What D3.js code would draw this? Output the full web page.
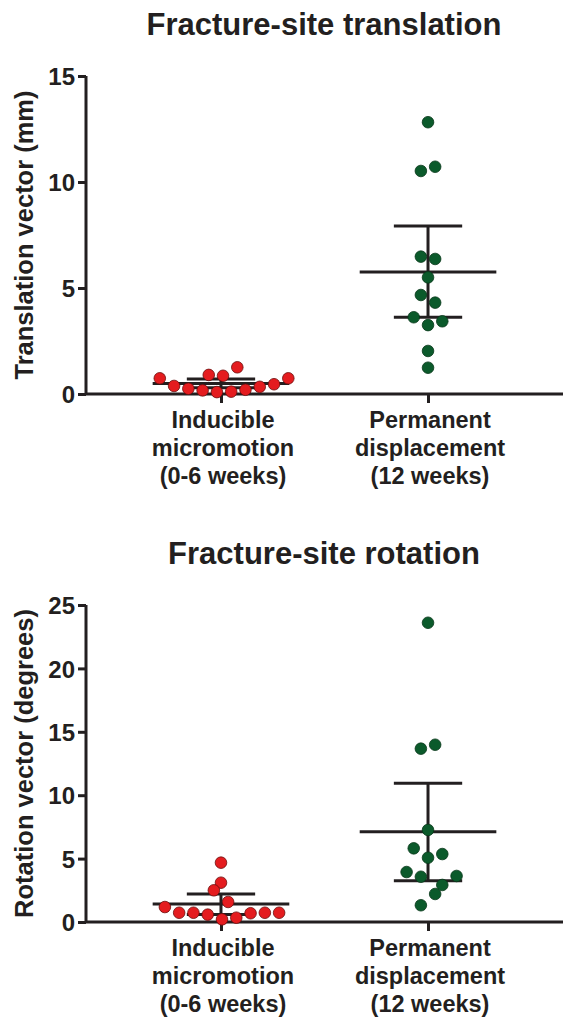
<!DOCTYPE html>
<html>
<head>
<meta charset="utf-8">
<script src="https://cdn.jsdelivr.net/npm/d3@7"></script>
<style>
  body { margin: 0; background: #fff; }
  svg text { font-family: "Liberation Sans", Arial, sans-serif; font-weight: bold; fill: #231f20; }
</style>
</head>
<body>
<svg id="svg" width="565" height="1017"></svg>
<script>
// categories (x tick labels, one line per entry)
var groups = ['micro', 'perm'];
var groupLabels = [
    ['Inducible', 'micromotion', '(0-6 weeks)'],
    ['Permanent', 'displacement', '(12 weeks)']
];

// translation vector (mm)
var transMicro = [0.74, 0.38, 0.25, 0.17, 0.09, 0.11, 0.20, 0.34, 0.46, 0.74, 0.90, 0.86, 1.26];
var transPerm = [12.82, 10.52, 10.72, 6.48, 6.37, 5.50, 4.67, 4.31, 3.62, 3.25, 3.43, 2.03, 1.24];
// mean, lower, upper (error bars)
var transStats = [[0.50, 0.29, 0.71], [5.75, 3.62, 7.92]];
var transTicks = [0, 5, 10, 15];

// rotation vector (degrees)
var rotMicro = [4.68, 3.10, 2.50, 1.58, 1.18, 0.73, 0.73, 0.58, 0.21, 0.34, 0.69, 0.73, 0.73];
var rotPerm = [23.60, 13.67, 13.98, 7.26, 5.81, 5.07, 5.36, 3.94, 3.57, 3.63, 2.92, 2.21, 1.32];
var rotStats = [[1.42, 0.60, 2.20], [7.12, 3.26, 10.94]];
var rotTicks = [0, 5, 10, 15, 20, 25];

// x offsets (in point-radius units) of the scattered dots, so they don't overlap
var transMicroJit = [-6, -4.6, -3.2, -1.8, -0.4, 1, 2.4, 3.8, 5.2, 6.6, -1.2, 0.2, 1.6];
var transPermJit = [0, -0.7, 0.7, -0.7, 0.7, 0, -0.7, 0.7, -1.4, 0, 1.4, 0, 0];
var rotMicroJit = [0, 0, -0.7, 0.7, -5.5, -4.1, -2.7, -1.3, 0.1, 1.5, 2.9, 4.3, 5.7];
var rotPermJit = [0, -0.7, 0.7, 0, -1.4, 0, 1.4, -2.1, -0.7, 2.8, 1.4, 0.7, -0.7];

var colors = { micro: '#e41c1f', perm: '#0b5a2b' };
var strokes = { micro: '#6b0b0b', perm: '#063618' };
var ink = '#231f20';

var svg = d3.select('#svg');

var panels = [
    { title: 'Fracture-site translation', ylabel: 'Translation vector (mm)', top: 76, bottom: 394, max: 15,
      ticks: transTicks, data: [transMicro, transPerm], jit: [transMicroJit, transPermJit], stats: transStats },
    { title: 'Fracture-site rotation', ylabel: 'Rotation vector (degrees)', top: 605, bottom: 922, max: 25,
      ticks: rotTicks, data: [rotMicro, rotPerm], jit: [rotMicroJit, rotPermJit], stats: rotStats }
];

var left = 86, right = 563;

var x = d3.scalePoint().domain(groups).range([left, right]).padding(0.652);

panels.forEach(function (p) {
    var g = svg.append('g');
    var y = d3.scaleLinear().domain([0, p.max]).range([p.bottom, p.top]);
    var step = x.step();

    // title
    g.append('text')
        .attr('x', 324)
        .attr('y', p.top - 41)
        .attr('text-anchor', 'middle')
        .style('font-size', '31px')
        .text(p.title);

    // y axis label
    g.append('text')
        .attr('transform', 'translate(33,' + ((p.top + p.bottom) / 2) + ') rotate(-90)')
        .attr('text-anchor', 'middle')
        .style('font-size', '25.5px')
        .text(p.ylabel);

    // y axis
    var yAxis = g.append('g')
        .attr('transform', 'translate(' + left + ',0)')
        .call(d3.axisLeft(y).tickValues(p.ticks).tickSize(8).tickPadding(3));
    yAxis.select('.domain').attr('stroke', ink).attr('stroke-width', 3).attr('d', 'M0,' + p.top + 'V' + p.bottom);
    yAxis.selectAll('.tick line').attr('stroke', ink).attr('stroke-width', 3);
    yAxis.selectAll('.tick text').style('font-size', '24px').attr('fill', ink).attr('dy', '0.36em');

    // x axis
    var xAxis = g.append('g')
        .attr('transform', 'translate(0,' + p.bottom + ')')
        .call(d3.axisBottom(x).tickSize(9).tickFormat(''));
    xAxis.select('.domain').attr('stroke', ink).attr('stroke-width', 3).attr('d', 'M' + left + ',0H' + right);
    xAxis.selectAll('.tick line').attr('stroke', ink).attr('stroke-width', 3);

    groups.forEach(function (grp, gi) {
        var cx = x(grp);
        var lines = groupLabels[gi];
        var t = g.append('text')
            .attr('text-anchor', 'middle')
            .style('font-size', '23.5px');
        lines.forEach(function (ln, li) {
            t.append('tspan')
                .attr('x', cx + 2)
                .attr('y', p.bottom + 34 + li * 28)
                .text(ln);
        });

        // error bars
        var st = p.stats[gi];
        var eb = g.append('g').attr('stroke', ink).attr('stroke-width', 3);
        eb.append('line')
            .attr('x1', cx - step * 0.33).attr('x2', cx + step * 0.33)
            .attr('y1', y(st[0])).attr('y2', y(st[0]));
        eb.append('line')
            .attr('x1', cx).attr('x2', cx)
            .attr('y1', y(st[1])).attr('y2', y(st[2]));
        [st[1], st[2]].forEach(function (v) {
            eb.append('line')
                .attr('x1', cx - step * 0.165).attr('x2', cx + step * 0.165)
                .attr('y1', y(v)).attr('y2', y(v));
        });

        // points
        var r = 5.8;
        g.append('g').selectAll('circle')
            .data(p.data[gi])
            .enter().append('circle')
            .attr('cx', function (d, i) { return cx + p.jit[gi][i] * 10.2; })
            .attr('cy', function (d) { return y(d); })
            .attr('r', r)
            .attr('fill', colors[grp])
            .attr('stroke', strokes[grp])
            .attr('stroke-width', 0.8);
    });
});
</script>
</body>
</html>
